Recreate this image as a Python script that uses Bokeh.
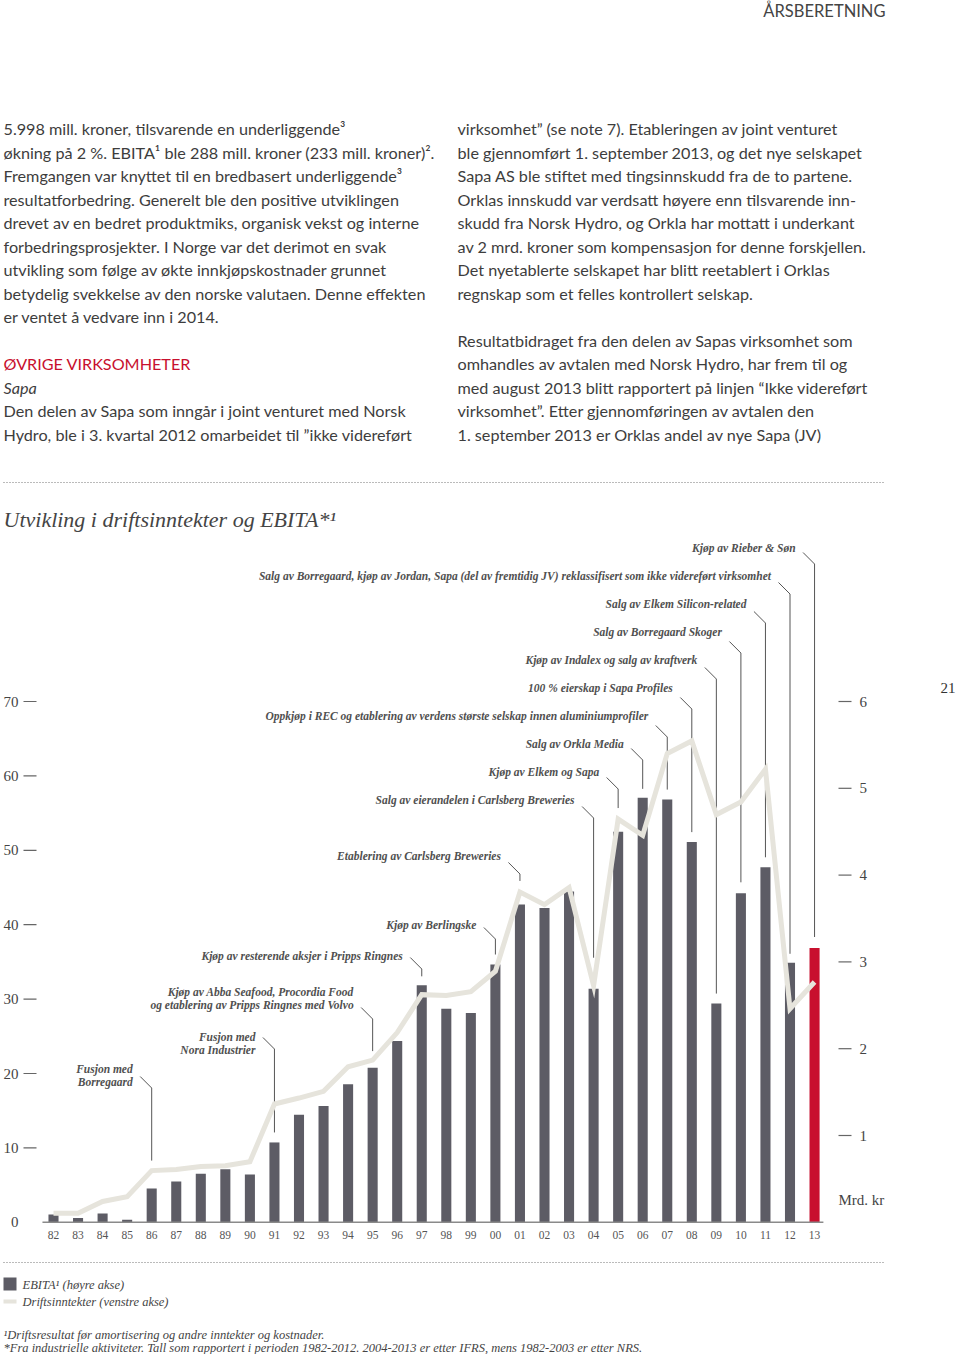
from bokeh.plotting import figure
from bokeh.models import Range1d
from bokeh.embed import file_html
from bokeh.resources import INLINE
from bokeh.core.properties import value

# ---------------- data ----------------
years = ["82", "83", "84", "85", "86", "87", "88", "89", "90", "91", "92", "93", "94", "95", "96", "97",
         "98", "99", "00", "01", "02", "03", "04", "05", "06", "07", "08", "09", "10", "11", "12", "13"]
ebita = [0.09, 0.05, 0.10, 0.03, 0.39, 0.47, 0.56, 0.61, 0.55, 0.92, 1.24, 1.34, 1.59, 1.78, 2.09, 2.73,
         2.46, 2.41, 2.97, 3.66, 3.62, 3.81, 2.69, 4.50, 4.89, 4.87, 4.38, 2.52, 3.79, 4.09, 2.99, 3.16]
revenue = [1.2, 1.2, 2.8, 3.45, 6.95, 7.1, 7.5, 7.6, 8.15, 15.9, 16.7, 17.6, 20.9, 21.8, 25.5, 30.6,
           30.5, 31.0, 33.75, 44.4, 42.7, 45.0, 31.8, 54.2, 52.0, 63.0, 64.7, 54.8, 56.5, 60.9, 28.7, 32.3]
rev_ticks = [0, 10, 20, 30, 40, 50, 60, 70]
rev_tick_labels = ["0", "10", "20", "30", "40", "50", "60", "70"]
eb_ticks = [1, 2, 3, 4, 5, 6]
eb_tick_labels = ["1", "2", "3", "4", "5", "6"]

ann_years = ["86", "91", "95", "97", "00", "01", "04", "05", "06", "07", "08", "09", "10", "11", "12", "13"]
ann_texts = [
    ["Fusjon med", "Borregaard"],
    ["Fusjon med", "Nora Industrier"],
    ["Kjøp av Abba Seafood, Procordia Food", "og etablering av Pripps Ringnes med Volvo"],
    ["Kjøp av resterende aksjer i Pripps Ringnes"],
    ["Kjøp av Berlingske"],
    ["Etablering av Carlsberg Breweries"],
    ["Salg av eierandelen i Carlsberg Breweries"],
    ["Kjøp av Elkem og Sapa"],
    ["Salg av Orkla Media"],
    ["Oppkjøp i REC og etablering av verdens største selskap innen aluminiumprofiler"],
    ["100 % eierskap i Sapa Profiles"],
    ["Kjøp av Indalex og salg av kraftverk"],
    ["Salg av Borregaard Skoger"],
    ["Salg av Elkem Silicon-related"],
    ["Salg av Borregaard, kjøp av Jordan, Sapa (del av fremtidig JV) reklassifisert som ikke videreført virksomhet"],
    ["Kjøp av Rieber & Søn"],
]
ann_target = ["line", "bar", "line", "bar", "bar", "line", "line", "line", "bar", "bar", "bar", "bar",
              "bar", "bar", "bar", "bar"]

left_text = [
    "5.998 mill. kroner, tilsvarende en underliggende³",
    "økning på 2 %. EBITA¹ ble 288 mill. kroner (233 mill. kroner)².",
    "Fremgangen var knyttet til en bredbasert underliggende³",
    "resultatforbedring. Generelt ble den positive utviklingen",
    "drevet av en bedret produktmiks, organisk vekst og interne",
    "forbedringsprosjekter. I Norge var det derimot en svak",
    "utvikling som følge av økte innkjøpskostnader grunnet",
    "betydelig svekkelse av den norske valutaen. Denne effekten",
    "er ventet å vedvare inn i 2014.",
]
left_heading = "ØVRIGE VIRKSOMHETER"
left_sub = "Sapa"
left_text2 = [
    "Den delen av Sapa som inngår i joint venturet med Norsk",
    "Hydro, ble i 3. kvartal 2012 omarbeidet til ”ikke videreført",
]
right_text = [
    "virksomhet” (se note 7). Etableringen av joint venturet",
    "ble gjennomført 1. september 2013, og det nye selskapet",
    "Sapa AS ble stiftet med tingsinnskudd fra de to partene.",
    "Orklas innskudd var verdsatt høyere enn tilsvarende inn-",
    "skudd fra Norsk Hydro, og Orkla har mottatt i underkant",
    "av 2 mrd. kroner som kompensasjon for denne forskjellen.",
    "Det nyetablerte selskapet har blitt reetablert i Orklas",
    "regnskap som et felles kontrollert selskap.",
    "",
    "Resultatbidraget fra den delen av Sapas virksomhet som",
    "omhandles av avtalen med Norsk Hydro, har frem til og",
    "med august 2013 blitt rapportert på linjen “Ikke videreført",
    "virksomhet”. Etter gjennomføringen av avtalen den",
    "1. september 2013 er Orklas andel av nye Sapa (JV)",
]
header = "ÅRSBERETNING"
page_no = "21"
chart_title = "Utvikling i driftsinntekter og EBITA*¹"
legend_labels = ["EBITA¹ (høyre akse)", "Driftsinntekter (venstre akse)"]
footnotes = ["¹Driftsresultat før amortisering og andre inntekter og kostnader.",
             "*Fra industrielle aktiviteter. Tall som rapportert i perioden 1982-2012. 2004-2013 er etter IFRS, mens 1982-2003 er etter NRS."]
unit_label = "Mrd. kr"

# ---------------- layout constants (page pixels) ----------------
W, H = 958, 1354
X0, DX = 53.0, 24.55          # page x of first bar, spacing per year
Y0 = 1221.8                   # baseline page y
RY = 7.44                     # px per bn (left axis)
RE = 86.8                     # px per bn (right axis)
PT, PB, PL, PR = 0, H, 0, W

ann_text_y = [[1068, 1081], [1036, 1049], [991, 1004], [955], [924], [855], [799], [771], [743],
              [715], [687], [659], [631], [603], [575], [547]]
ann_lead_y = [1076, 1037, 1007, 957, 927, 862, 806, 777, 748, 725, 697, 667, 641, 611, 582, 552]
ann_gap = [10, 10, 9, 9, 10, 11, 28, 11, 9, 10, 10, 10, 11, 10, 9, 11]

SERIF = value("Liberation Serif")
SANS = value("Lato")
BODY_C = "#3d3d3d"
ANN_C = "#505050"
BAR_C = "#5d5c65"
RED = "#c8102e"
LINE_C = "#e6e4dc"
BODY_FS = "16.2px"

p = figure(width=W, height=H, x_range=Range1d(PL, PR), y_range=Range1d(PB, PT),
           output_backend="svg", toolbar_location=None, min_border=0,
           x_axis_location=None, y_axis_location=None, outline_line_color=None)
p.grid.visible = False
p.extra_x_ranges = {"yr": Range1d((PL - X0) / DX, (PR - X0) / DX)}
p.extra_y_ranges = {"rev": Range1d((Y0 - PB) / RY, (Y0 - PT) / RY),
                    "eb": Range1d((Y0 - PB) / RE, (Y0 - PT) / RE)}

idx = list(range(len(years)))


def px_x(i):
    return X0 + DX * i


def py_rev(v):
    return Y0 - RY * v


def py_eb(v):
    return Y0 - RE * v


# ---------------- page text ----------------
p.text(x=[885], y=[10], text=[header], text_font=SANS, text_font_size="16.5px",
       text_align="right", text_baseline="middle", text_color="#444444")

LH = 23.5
TOP = 128
lx, rx = 3, 457
for k, t in enumerate(left_text):
    p.text(x=[lx], y=[TOP + k * LH], text=[t], text_font=SANS, text_font_size=BODY_FS,
           text_baseline="middle", text_color=BODY_C)
p.text(x=[lx], y=[TOP + 10 * LH], text=[left_heading], text_font=SANS, text_font_size=BODY_FS,
       text_baseline="middle", text_color=RED)
p.text(x=[lx], y=[TOP + 11 * LH], text=[left_sub], text_font=SANS, text_font_size=BODY_FS,
       text_font_style="italic", text_baseline="middle", text_color=BODY_C)
for k, t in enumerate(left_text2):
    p.text(x=[lx], y=[TOP + (12 + k) * LH], text=[t], text_font=SANS, text_font_size=BODY_FS,
           text_baseline="middle", text_color=BODY_C)
for k, t in enumerate(right_text):
    if t:
        p.text(x=[rx], y=[TOP + k * LH], text=[t], text_font=SANS, text_font_size=BODY_FS,
               text_baseline="middle", text_color=BODY_C)

# dotted separators
p.segment(x0=[3, 3], x1=[885, 885], y0=[482, 1262], y1=[482, 1262], line_color="#777777",
          line_width=1, line_dash="1 2")

# chart title
p.text(x=[3], y=[519], text=[chart_title], text_font=SERIF, text_font_size="22px",
       text_font_style="italic", text_baseline="middle", text_color="#444444")

# page number
p.text(x=[940], y=[687], text=[page_no], text_font=SERIF, text_font_size="15px",
       text_baseline="middle", text_color="#333333")

# ---------------- annotations (leaders drawn first) ----------------
xs, ys = [], []
for a, yr in enumerate(ann_years):
    i = years.index(yr)
    xc = px_x(i)
    top_val = py_eb(ebita[i]) if ann_target[a] == "bar" else py_rev(revenue[i])
    end_y = top_val - ann_gap[a]
    ly = ann_lead_y[a]
    xs.append([xc - 11.5, xc, xc])
    ys.append([ly, ly + 11.5, end_y])
    for t, ty in zip(ann_texts[a], ann_text_y[a]):
        p.text(x=[xc - 19], y=[ty], text=[t], text_font=SERIF, text_font_size="11.5px",
               text_font_style="bold italic", text_align="right", text_baseline="middle",
               text_color=ANN_C)
p.multi_line(xs=xs, ys=ys, line_color="#555555", line_width=1)

# ---------------- bars & line ----------------
bar_colors = [BAR_C] * (len(years) - 1) + [RED]
p.vbar(x=idx, top=ebita, bottom=0, width=0.41, fill_color=bar_colors, line_color=None,
       x_range_name="yr", y_range_name="eb")
p.line(x=idx, y=revenue, line_color=LINE_C, line_width=5, line_join="miter",
       x_range_name="yr", y_range_name="rev")

# baseline
p.segment(x0=[-0.45], x1=[len(years) - 0.64], y0=[0], y1=[0], line_color="#8a8a8a",
          line_width=1.5, x_range_name="yr", y_range_name="eb")

# x tick labels
p.text(x=idx, y=[1234] * len(idx), text=years, text_font=SERIF, text_font_size="11.5px",
       text_align="center", text_baseline="middle", text_color="#555555", x_range_name="yr")

# left axis
p.text(x=[18] * len(rev_ticks), y=rev_ticks, text=rev_tick_labels, text_font=SERIF,
       text_font_size="15px", text_align="right", text_baseline="middle", text_color="#444444",
       y_range_name="rev")
lt = rev_ticks[1:]
p.segment(x0=[23] * len(lt), x1=[36] * len(lt), y0=lt, y1=lt, line_color="#666666",
          line_width=1.2, y_range_name="rev")

# right axis
p.text(x=[859] * len(eb_ticks), y=eb_ticks, text=eb_tick_labels, text_font=SERIF,
       text_font_size="15px", text_align="left", text_baseline="middle", text_color="#444444",
       y_range_name="eb")
p.segment(x0=[838] * len(eb_ticks), x1=[851] * len(eb_ticks), y0=eb_ticks, y1=eb_ticks,
          line_color="#666666", line_width=1.2, y_range_name="eb")
p.text(x=[838], y=[1199], text=[unit_label], text_font=SERIF, text_font_size="15px",
       text_align="left", text_baseline="middle", text_color="#444444")

# ---------------- legend ----------------
p.quad(left=[3], right=[16], top=[1277], bottom=[1290], fill_color=BAR_C, line_color=None)
p.segment(x0=[3], x1=[16], y0=[1301], y1=[1301], line_color=LINE_C, line_width=4)
for t, ty in zip(legend_labels, [1284, 1301]):
    p.text(x=[22], y=[ty], text=[t], text_font=SERIF, text_font_size="12.5px",
           text_font_style="italic", text_baseline="middle", text_color="#444444")

# ---------------- footnotes ----------------
for t, ty in zip(footnotes, [1334, 1347]):
    p.text(x=[3], y=[ty], text=[t], text_font=SERIF, text_font_size="12.5px",
           text_font_style="italic", text_baseline="middle", text_color="#444444")

open("out.html", "w").write(file_html(p, INLINE))
